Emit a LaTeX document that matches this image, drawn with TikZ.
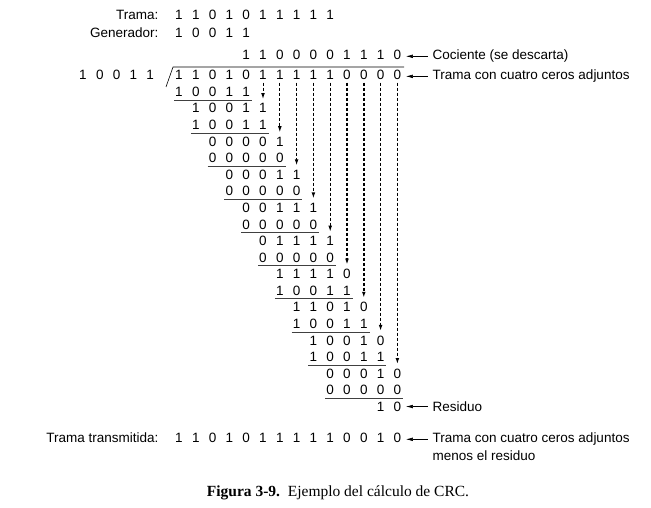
\documentclass[tikz,border=0pt]{standalone}
\usepackage{fontspec}
\setmainfont{Liberation Sans}
\newfontfamily\capfont{Liberation Serif}
\usetikzlibrary{arrows.meta}
\begin{document}
\begin{tikzpicture}[x=1pt, y=-1pt,
  every node/.style={font=\fontsize{13.5}{16}\selectfont, inner sep=0.5pt},
  bit/.style={anchor=base},
  tag/.style={anchor=base east},
  note/.style={anchor=base west},
  sumline/.style={line width=0.7pt, black!75},
  bring/.style={dash pattern=on 3pt off 2pt, -{Latex[length=6pt,width=3.8pt]},
    shorten <=2pt, shorten >=4pt},
  point/.style={line width=0.6pt, -{Latex[length=7pt,width=3.6pt]},
    shorten <=4.5pt, shorten >=4pt}]
\useasboundingbox (0,0) rectangle (651,508);
% cabecera
\node[tag] (trama) at (159,19.8) {Trama:};
\foreach \b [count=\i from 0] in {1,1,0,1,0,1,1,1,1,1}
  \node[bit] (t\i) at (179+16.8*\i,19.8) {\b};
\node[tag] (gen) at (159,37.8) {Generador:};
\foreach \b [count=\i from 0] in {1,0,0,1,1}
  \node[bit] (g\i) at (179+16.8*\i,37.8) {\b};
% cociente, divisor y dividendo
\foreach \b [count=\i from 4] in {1,1,0,0,0,0,1,1,1,0}
  \node[bit] (q\i) at (179+16.8*\i,59.8) {\b};
\foreach \b [count=\i from 0] in {1,0,0,1,1}
  \node[bit] (v\i) at (83+16.8*\i,79.85) {\b};
\foreach \b [count=\i from 0] in {1,1,0,1,0,1,1,1,1,1,0,0,0,0}
  \node[bit] (d\i) at (179+16.8*\i,79.85) {\b};
\draw[line width=0.6pt] (166,87) -- (173,67) -- (404,67);
% restas parciales
\foreach \r/\w in {1/{1,0,0,1,1},2/{1,0,0,1,1},3/{1,0,0,1,1},4/{0,0,0,0,1},
    5/{0,0,0,0,0},6/{0,0,0,1,1},7/{0,0,0,0,0},8/{0,0,1,1,1},9/{0,0,0,0,0},
    10/{0,1,1,1,1},11/{0,0,0,0,0},12/{1,1,1,1,0},13/{1,0,0,1,1},14/{1,1,0,1,0},
    15/{1,0,0,1,1},16/{1,0,0,1,0},17/{1,0,0,1,1},18/{0,0,0,1,0},19/{0,0,0,0,0}}{
  \pgfmathtruncatemacro{\c}{floor(\r/2)}
  \pgfmathsetmacro{\yb}{79.85+16.575*\r}
  \foreach \b [count=\k from \c] in \w
    \node[bit] (r\r c\k) at (179+16.8*\k,\yb) {\b};
  \ifodd\r
    \draw[sumline] (174+16.8*\c,\yb+3.5) -- (252+16.8*\c,\yb+3.5);
  \fi
}
\foreach \b [count=\k from 12] in {1,0}
  \node[bit] (r20c\k) at (179+16.8*\k,79.85+16.575*20) {\b};
% bajadas
\foreach \k/\lw in {5/0.9,6/0.9,7/1,8/1.3,9/1,10/1.6,11/1.6,12/1.6,13/1.6}{
  \pgfmathtruncatemacro{\t}{2*\k-8}
  \draw[bring, line width=\lw pt] (d\k) -- (r\t c\k);
}
% notas
\node[note] (ncoc) at (432,59.8) {Cociente (se descarta)};
\draw[point] (ncoc.west) -- (ncoc.west -| q13.east);
\node[note] (ntra) at (432,79.85) {Trama con cuatro ceros adjuntos};
\draw[point] (ntra.west) -- (ntra.west -| d13.east);
\node[note] (nres) at (432,411.35) {Residuo};
\draw[point] (nres.west) -- (nres.west -| r20c13.east);
% trama transmitida
\node[tag] (ttx) at (159,442.8) {Trama transmitida:};
\foreach \b [count=\i from 0] in {1,1,0,1,0,1,1,1,1,1,0,0,1,0}
  \node[bit] (x\i) at (179+16.8*\i,442.8) {\b};
\node[note] (ntx) at (432,442.8) {Trama con cuatro ceros adjuntos};
\node[note] (ntx2) at (432,460) {menos el residuo};
\draw[point] (ntx.west) -- (ntx.west -| x13.east);
% pie
\node[anchor=base] (pie) at (338,496) {\capfont\fontsize{15.5}{18}\selectfont
  \textbf{Figura 3-9.}\hspace{0.5em}Ejemplo del cálculo de CRC.};
\end{tikzpicture}
\end{document}
